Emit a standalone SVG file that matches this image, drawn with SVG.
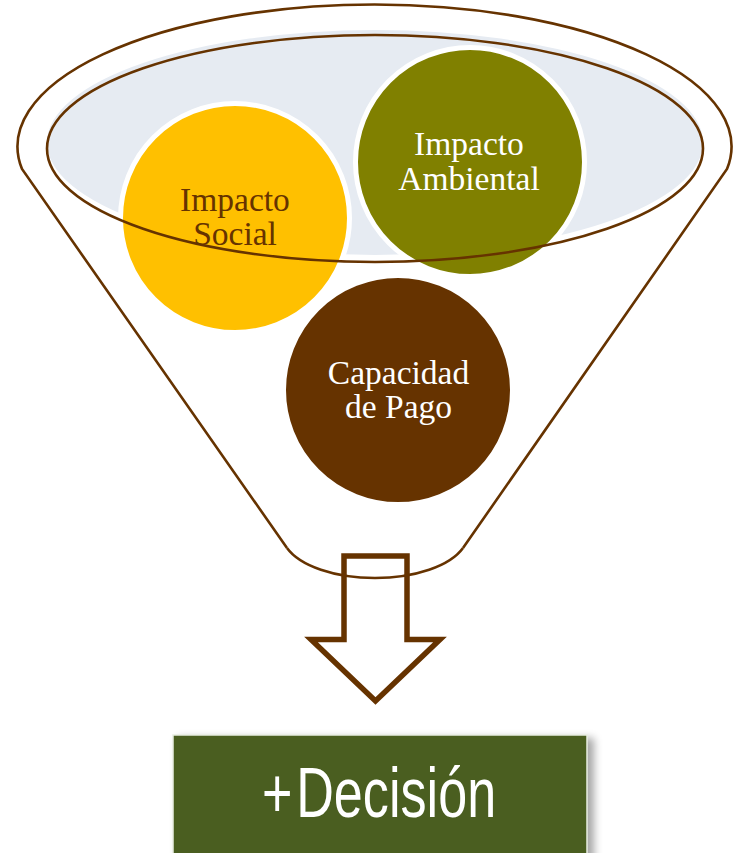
<svg xmlns="http://www.w3.org/2000/svg" width="733" height="853" viewBox="0 0 733 853">
  <style>
    .line { fill: none; stroke: #663300; stroke-width: 2.6; }
    .ring { stroke: #ffffff; stroke-width: 5; }
    .lbl { font-family: "Liberation Serif", "Times New Roman", serif; font-size: 33.5px; text-anchor: middle; }
    .dec { font-family: "Liberation Sans", Arial, sans-serif; font-size: 70px; fill: #ffffff; }
  </style>
  <defs>
    <filter id="shadow" x="-10%" y="-20%" width="130%" height="150%">
      <feGaussianBlur stdDeviation="4"/>
    </filter>
  </defs>
  <rect width="733" height="853" fill="#ffffff"/>

  <g id="funnel-body">
    <path class="line" d="M 287 548 L 22 169 A 357 142 0 1 1 727 169 L 463 548"/>
    <path class="line" d="M 287 548 C 300 566 335 578 375 578 C 415 578 450 566 463 548"/>
    <ellipse cx="375" cy="142.5" rx="328" ry="112.5" fill="#E6EBF2"/>
  </g>

  <g id="impacto-social">
    <circle class="ring" cx="235" cy="218" r="114.5" fill="#FFC000"/>
    <text class="lbl" fill="#663300" x="235" y="211">Impacto</text>
    <text class="lbl" fill="#663300" x="235" y="245">Social</text>
  </g>

  <g id="impacto-ambiental">
    <circle class="ring" cx="470" cy="162" r="114.5" fill="#808000"/>
    <text class="lbl" fill="#ffffff" x="469" y="155">Impacto</text>
    <text class="lbl" fill="#ffffff" x="469" y="190">Ambiental</text>
  </g>

  <g id="funnel-rim">
    <ellipse class="line" cx="375" cy="148.5" rx="328" ry="113.5"/>
  </g>

  <g id="capacidad-de-pago">
    <circle class="ring" cx="398" cy="390" r="114.5" fill="#663300"/>
    <text class="lbl" fill="#ffffff" x="398.5" y="384">Capacidad</text>
    <text class="lbl" fill="#ffffff" x="398.5" y="418">de Pago</text>
  </g>

  <g id="connectors">
    <path d="M 344 556 L 407 556 L 407 639.5 L 440 639.5 L 375.5 701 L 311 639.5 L 344 639.5 Z" fill="none" stroke="#663300" stroke-width="5.5" stroke-linejoin="miter"/>
  </g>

  <g id="decision">
    <rect x="178" y="738" width="416" height="130" fill="#000000" opacity="0.35" filter="url(#shadow)"/>
    <rect x="173" y="735" width="414" height="130" fill="#4A5E20" stroke="#E9EEE2" stroke-width="1.5"/>
    <text class="dec" x="0" y="0" dx="0 5" transform="translate(262 817) scale(0.745 1)">+Decisión</text>
  </g>
</svg>
